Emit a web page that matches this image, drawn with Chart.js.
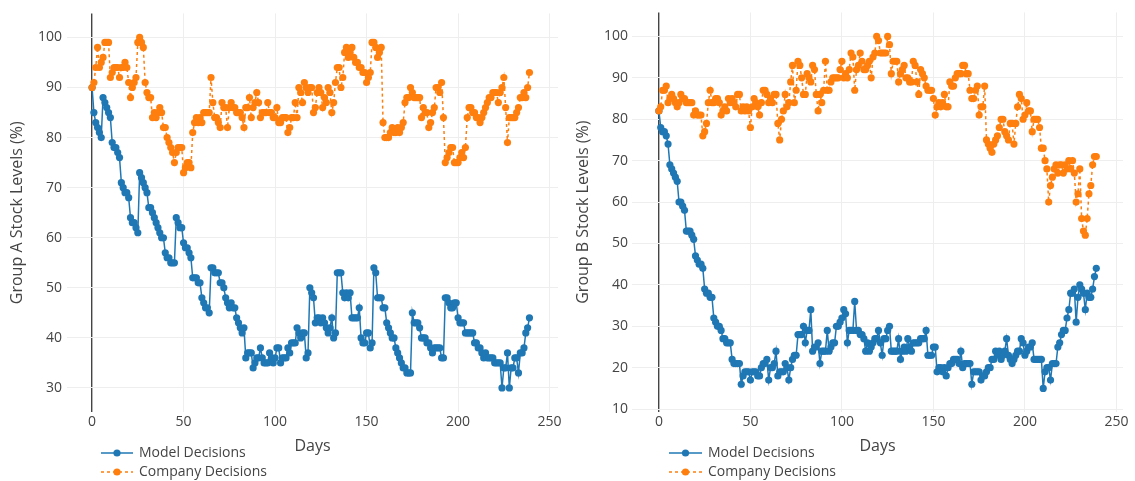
<!DOCTYPE html>
<html>
<head>
<meta charset="utf-8">
<script src="https://cdn.jsdelivr.net/npm/chart.js@4.4.1/dist/chart.umd.min.js"></script>
<style>
  html, body { margin: 0; padding: 0; background: #ffffff; }
  #wrap { position: relative; width: 1135px; height: 481px; overflow: hidden; }
  canvas { position: absolute; top: 0; }
</style>
</head>
<body>
<div id="wrap">
  <canvas id="chartA" width="567" height="481" style="left:0px"></canvas>
  <canvas id="chartB" width="568" height="481" style="left:567px"></canvas>
</div>
<script>
// Daily stock levels (%) for two product groups, days 0..239
const seriesNames = ['Model Decisions', 'Company Decisions'];
const dayTicks = [0, 50, 100, 150, 200, 250];
const groupATicks = [30, 40, 50, 60, 70, 80, 90, 100];
const groupBTicks = [10, 20, 30, 40, 50, 60, 70, 80, 90, 100];

const modelA = [
  90,85,83,82,81,80,88,87,86,85, 84,79,78,78,77,76,71,70,69,69,
  68,64,63,63,62,61,73,72,71,70, 69,66,66,65,64,63,62,61,60,60,
  57,56,56,55,55,55,64,63,62,62, 59,58,58,57,56,52,52,52,51,51,
  48,47,46,46,45,54,54,53,53,53, 51,51,50,48,47,46,47,46,46,44,
  43,42,41,42,36,37,37,37,34,35, 36,36,38,36,35,35,35,37,36,35,
  36,38,38,35,36,36,36,38,37,39, 39,39,42,41,40,41,41,36,37,50,
  49,48,43,44,44,43,44,43,42,41, 42,44,40,41,53,53,53,49,48,49,
  48,49,44,44,44,44,46,40,39,39, 41,41,38,39,54,53,48,48,48,46,
  46,43,42,41,40,40,38,37,36,35, 34,34,33,33,33,45,43,43,43,42,
  40,40,40,39,39,38,37,38,38,38, 38,36,36,48,48,47,46,46,47,47,
  44,43,43,43,41,41,41,41,41,39, 39,38,38,37,36,37,36,36,36,36,
  35,35,35,35,30,34,34,37,30,34, 34,36,36,33,37,37,38,41,42,44
];
const companyA = [
  90,91,94,98,94,95,96,99,99,99, 92,93,94,94,94,92,94,94,95,94,
  91,88,90,91,92,99,100,99,98,91, 89,88,88,84,85,84,85,86,85,82,
  82,80,79,78,77,75,77,78,78,78, 73,74,75,75,74,81,83,84,83,84,
  83,85,85,85,85,92,87,84,84,83, 82,87,86,86,82,86,87,86,86,85,
  85,85,84,82,86,86,88,84,86,87, 89,87,84,85,85,85,87,85,85,84,
  84,86,83,83,84,84,84,81,82,84, 84,87,84,90,89,87,91,90,89,90,
  90,85,86,89,90,89,86,88,87,90, 89,85,87,91,94,94,90,92,97,98,
  96,97,98,96,95,95,94,94,93,93, 91,92,93,99,99,98,96,97,98,83,
  80,80,80,81,82,81,81,82,81,82, 83,87,88,88,90,89,88,88,88,88,
  84,86,85,85,82,83,85,86,90,90, 89,91,84,75,76,77,78,78,75,75,
  75,76,77,76,78,84,86,86,85,85, 84,84,83,84,85,86,87,88,88,89,
  89,89,87,89,90,92,86,79,84,84, 84,84,85,86,88,88,89,88,90,93
];
const modelB = [
  82,78,77,77,76,74,69,68,67,66, 65,60,60,59,58,53,53,53,52,51,
  47,46,45,45,44,39,38,38,37,37, 32,31,30,30,29,27,27,26,26,26,
  22,21,21,21,21,16,18,19,19,19, 17,19,19,19,18,18,20,21,21,22,
  17,20,20,21,24,18,19,19,19,21, 20,17,20,22,23,23,28,28,28,30,
  26,29,29,34,24,25,25,26,21,24, 24,24,29,24,25,26,26,30,30,31,
  32,34,33,26,29,29,29,36,29,29, 28,28,27,24,26,24,25,26,27,27,
  29,26,23,27,27,29,30,24,24,24, 24,27,22,24,25,24,27,25,24,26,
  26,26,26,27,27,27,29,23,23,23, 25,25,19,20,20,19,20,18,20,21,
  21,22,22,22,21,24,20,21,21,21, 21,16,19,19,19,19,17,18,18,19,
  20,20,22,22,24,23,24,22,23,24, 27,23,22,21,22,23,24,24,27,26,
  23,24,25,25,26,22,22,22,22,22, 15,19,20,20,17,21,21,21,25,26,
  28,29,29,32,34,38,38,39,31,37, 40,39,38,34,38,37,37,39,42,44
];
const companyB = [
  82,83,87,87,88,84,85,86,85,84, 83,84,86,85,85,84,84,84,84,81,
  82,81,81,81,76,77,79,84,87,84, 84,85,85,84,81,82,83,82,85,84,
  85,84,83,86,86,82,83,82,83,82, 78,83,85,84,83,81,84,87,87,86,
  84,85,84,86,86,79,75,80,82,86, 83,84,89,93,84,87,94,93,90,86,
  86,91,90,89,93,92,86,82,86,84, 87,94,87,87,89,90,90,90,90,92,
  94,90,91,90,92,96,95,87,92,93, 96,94,92,92,93,94,90,95,96,100,
  99,96,96,96,96,100,98,91,94,94, 94,89,91,92,93,90,90,89,89,94,
  93,89,86,92,91,90,88,87,87,87, 85,81,83,84,83,84,86,83,83,89,
  88,88,90,91,91,91,93,93,91,91, 87,85,85,87,88,81,83,83,88,75,
  74,73,72,74,75,76,78,80,80,77, 76,75,79,79,74,79,83,86,85,80,
  81,84,82,82,77,80,80,80,78,73, 73,70,68,60,64,66,68,69,67,69,
  69,67,69,68,70,68,70,67,60,62, 68,56,53,52,56,62,64,69,71,71
];

const BLUE = '#1f77b4';
const ORANGE = '#ff7f0e';
const TEXT = '#444444';
const GRID = '#eeeeee';
const FONT = "'Open Sans', Verdana, Arial, sans-serif";

function toPoints(values) {
  return values.map((v, i) => ({ x: i, y: v }));
}

// Legend drawn beneath the plot: line sample with a dot, then the label
const stackedLegend = {
  id: 'stackedLegend',
  afterDraw(chart, args, opts) {
    const ctx = chart.ctx;
    ctx.save();
    chart.data.datasets.forEach((ds, i) => {
      const y = opts.rows[i];
      ctx.strokeStyle = ds.borderColor;
      ctx.lineWidth = ds.borderWidth;
      ctx.setLineDash(ds.borderDash || []);
      ctx.beginPath();
      ctx.moveTo(opts.x0, y);
      ctx.lineTo(opts.x1, y);
      ctx.stroke();
      ctx.setLineDash([]);
      ctx.fillStyle = ds.pointBackgroundColor;
      ctx.beginPath();
      ctx.arc((opts.x0 + opts.x1) / 2, y, ds.pointRadius, 0, Math.PI * 2);
      ctx.fill();
      ctx.fillStyle = TEXT;
      ctx.font = '14px ' + FONT;
      ctx.textAlign = 'left';
      ctx.textBaseline = 'middle';
      ctx.fillText(ds.label, opts.textX, y + 0.5);
    });
    ctx.restore();
  }
};

function buildChart(canvasId, cfg) {
  return new Chart(document.getElementById(canvasId), {
    type: 'line',
    data: {
      datasets: [
        {
          label: seriesNames[0],
          data: toPoints(cfg.model),
          borderColor: BLUE,
          backgroundColor: BLUE,
          pointBackgroundColor: BLUE,
          borderWidth: 1.5,
          pointRadius: 3.6,
          pointHoverRadius: 3.6,
          pointBorderWidth: 0,
          tension: 0,
          order: 2
        },
        {
          label: seriesNames[1],
          data: toPoints(cfg.company),
          borderColor: ORANGE,
          backgroundColor: ORANGE,
          pointBackgroundColor: ORANGE,
          borderWidth: 1.5,
          borderDash: [3, 3],
          pointRadius: 3.6,
          pointHoverRadius: 3.6,
          pointBorderWidth: 0,
          tension: 0,
          order: 1
        }
      ]
    },
    options: {
      responsive: false,
      animation: false,
      devicePixelRatio: 1,
      layout: { padding: { left: 0, top: 12, right: cfg.padRight, bottom: 0 } },
      plugins: {
        legend: { display: false },
        tooltip: { enabled: false },
        stackedLegend: cfg.legend
      },
      scales: {
        x: {
          type: 'linear',
          min: cfg.xMin,
          max: cfg.xMax,
          afterBuildTicks: s => { s.ticks = dayTicks.map(v => ({ value: v })); },
          afterFit: s => { s.height = 69; },
          border: { display: false },
          grid: {
            drawTicks: false,
            color: c => (c.tick && c.tick.value === 0) ? TEXT : GRID,
            lineWidth: c => (c.tick && c.tick.value === 0) ? 1.4 : 1
          },
          ticks: {
            color: TEXT,
            padding: 2,
            autoSkip: false,
            maxRotation: 0,
            font: { family: FONT, size: 14 }
          },
          title: {
            display: true,
            text: 'Days',
            color: TEXT,
            font: { family: FONT, size: 16 },
            padding: { top: 0, bottom: 25 }
          }
        },
        y: {
          type: 'linear',
          min: cfg.yMin,
          max: cfg.yMax,
          afterBuildTicks: s => { s.ticks = cfg.yTicks.map(v => ({ value: v })); },
          afterFit: s => { s.width = cfg.yWidth; },
          border: { display: false },
          grid: { drawTicks: false, color: GRID, lineWidth: 1 },
          ticks: {
            color: TEXT,
            padding: cfg.yTickPad,
            font: { family: FONT, size: 14 }
          },
          title: {
            display: true,
            text: cfg.yTitle,
            color: TEXT,
            font: { family: FONT, size: 16 },
            padding: { top: cfg.yTitlePad, bottom: 0 }
          }
        }
      }
    },
    plugins: [stackedLegend]
  });
}

buildChart('chartA', {
  model: modelA,
  company: companyA,
  xMin: -13.7, xMax: 254.6,
  yMin: 25.2, yMax: 104.8,
  yTicks: groupATicks,
  yWidth: 67,
  yTickPad: 5,
  yTitlePad: 7.5,
  padRight: 9,
  yTitle: 'Group A Stock Levels (%)',
  legend: { x0: 101, x1: 133, textX: 139, rows: [453, 472] }
});

buildChart('chartB', {
  model: modelB,
  company: companyB,
  xMin: -14.7, xMax: 253.6,
  yMin: 9.3, yMax: 105.8,
  yTicks: groupBTicks,
  yWidth: 65,
  yTickPad: 4,
  yTitlePad: 6.5,
  padRight: 12,
  yTitle: 'Group B Stock Levels (%)',
  legend: { x0: 102, x1: 135, textX: 141, rows: [453, 472] }
});
</script>
</body>
</html>
